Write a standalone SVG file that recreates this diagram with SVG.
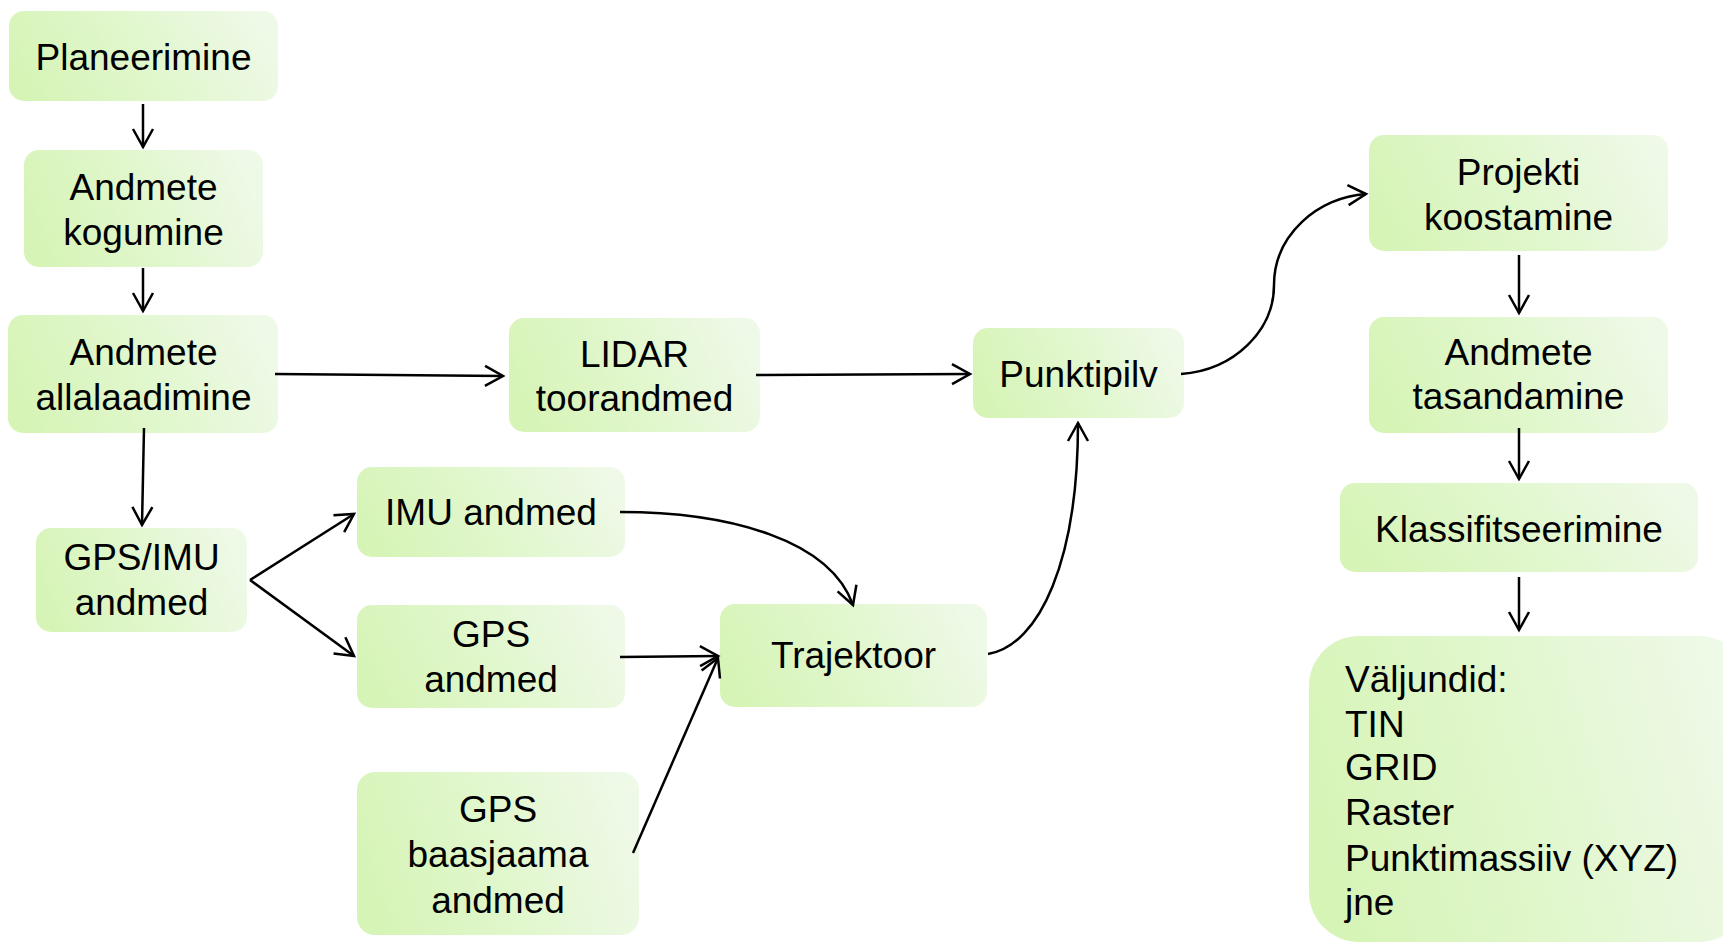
<svg xmlns="http://www.w3.org/2000/svg" width="1723" height="943" viewBox="0 0 1723 943">
  <defs>
    <linearGradient id="boxFill" x1="0" y1="0.6" x2="1" y2="0.4">
      <stop offset="0" stop-color="#d6f4b6"/>
      <stop offset="0.5" stop-color="#e1f7cd"/>
      <stop offset="1" stop-color="#eff9e8"/>
    </linearGradient>
    <marker id="arrow" markerUnits="userSpaceOnUse" markerWidth="24" markerHeight="24" viewBox="-20 -12 24 24" refX="0" refY="0" orient="auto">
      <path d="M-18,-10 L0,0 L-18,10" fill="none" stroke="#000" stroke-width="2.5" stroke-linejoin="miter"/>
    </marker>
  </defs>
  <style>
    .box { fill: url(#boxFill); }
    .label { font-family: "Liberation Sans", Arial, sans-serif; font-size: 37px; fill: #000; text-anchor: middle; }
    .list { font-family: "Liberation Sans", Arial, sans-serif; font-size: 37px; fill: #000; }
    .edge { fill: none; stroke: #000; stroke-width: 2.5; marker-end: url(#arrow); }
  </style>

  <rect width="1723" height="943" fill="#fff"/>

  <!-- process steps -->
  <g id="planeerimine">
    <rect class="box" x="9" y="11" width="269" height="90" rx="15"/>
    <text class="label" x="143.5" y="70">Planeerimine</text>
  </g>
  <g id="andmete-kogumine">
    <rect class="box" x="24" y="150" width="239" height="117" rx="15"/>
    <text class="label" x="143.5" y="200">Andmete</text>
    <text class="label" x="143.5" y="245">kogumine</text>
  </g>
  <g id="andmete-allalaadimine">
    <rect class="box" x="8" y="315" width="270" height="118" rx="15"/>
    <text class="label" x="143.5" y="365">Andmete</text>
    <text class="label" x="143.5" y="410">allalaadimine</text>
  </g>
  <g id="gps-imu-andmed">
    <rect class="box" x="36" y="528" width="211" height="104" rx="15"/>
    <text class="label" x="141.5" y="570">GPS/IMU</text>
    <text class="label" x="141.5" y="615">andmed</text>
  </g>
  <g id="lidar-toorandmed">
    <rect class="box" x="509" y="318" width="251" height="114" rx="15"/>
    <text class="label" x="634.5" y="367">LIDAR</text>
    <text class="label" x="634.5" y="411">toorandmed</text>
  </g>
  <g id="imu-andmed">
    <rect class="box" x="357" y="467" width="268" height="90" rx="15"/>
    <text class="label" x="491" y="525">IMU andmed</text>
  </g>
  <g id="gps-andmed">
    <rect class="box" x="357" y="605" width="268" height="103" rx="15"/>
    <text class="label" x="491" y="647">GPS</text>
    <text class="label" x="491" y="692">andmed</text>
  </g>
  <g id="gps-baasjaama-andmed">
    <rect class="box" x="357" y="772" width="282" height="163" rx="18"/>
    <text class="label" x="498" y="822">GPS</text>
    <text class="label" x="498" y="867">baasjaama</text>
    <text class="label" x="498" y="913">andmed</text>
  </g>
  <g id="trajektoor">
    <rect class="box" x="720" y="604" width="267" height="103" rx="15"/>
    <text class="label" x="853.5" y="668">Trajektoor</text>
  </g>
  <g id="punktipilv">
    <rect class="box" x="973" y="328" width="211" height="90" rx="15"/>
    <text class="label" x="1078.5" y="387">Punktipilv</text>
  </g>
  <g id="projekti-koostamine">
    <rect class="box" x="1369" y="135" width="299" height="116" rx="15"/>
    <text class="label" x="1518.5" y="185">Projekti</text>
    <text class="label" x="1518.5" y="230">koostamine</text>
  </g>
  <g id="andmete-tasandamine">
    <rect class="box" x="1369" y="317" width="299" height="116" rx="15"/>
    <text class="label" x="1518.5" y="365">Andmete</text>
    <text class="label" x="1518.5" y="409">tasandamine</text>
  </g>
  <g id="klassifitseerimine">
    <rect class="box" x="1340" y="483" width="358" height="89" rx="15"/>
    <text class="label" x="1519" y="542">Klassifitseerimine</text>
  </g>
  <g id="valjundid">
    <rect class="box" x="1309" y="636" width="440" height="306" rx="50"/>
    <text class="list" x="1345" y="692">Väljundid:</text>
    <text class="list" x="1345" y="737">TIN</text>
    <text class="list" x="1345" y="780">GRID</text>
    <text class="list" x="1345" y="825">Raster</text>
    <text class="list" x="1345" y="871">Punktimassiiv (XYZ)</text>
    <text class="list" x="1345" y="915">jne</text>
  </g>

  <!-- connectors -->
  <g id="connectors">
    <path class="edge" d="M143,104 L143,147"/>
    <path class="edge" d="M143,268 L143,311"/>
    <path class="edge" d="M144,428 L142,525"/>
    <path class="edge" d="M275,374 L503,376"/>
    <path class="edge" d="M250,580 L354,514"/>
    <path class="edge" d="M250,580 L354,656"/>
    <path class="edge" d="M756,375 L970,374"/>
    <path class="edge" d="M620,512 C730,512 830,540 853,605"/>
    <path class="edge" d="M620,657 L718,656"/>
    <path class="edge" d="M633,853 L718,658"/>
    <path class="edge" d="M988,654 C1040,645 1078,560 1078,423"/>
    <path class="edge" d="M1181,374 C1235,370 1274,330 1274,285 C1274,235 1318,197 1366,194"/>
    <path class="edge" d="M1519,255 L1519,313"/>
    <path class="edge" d="M1519,428 L1519,479"/>
    <path class="edge" d="M1519,577 L1519,630"/>
  </g>
</svg>
